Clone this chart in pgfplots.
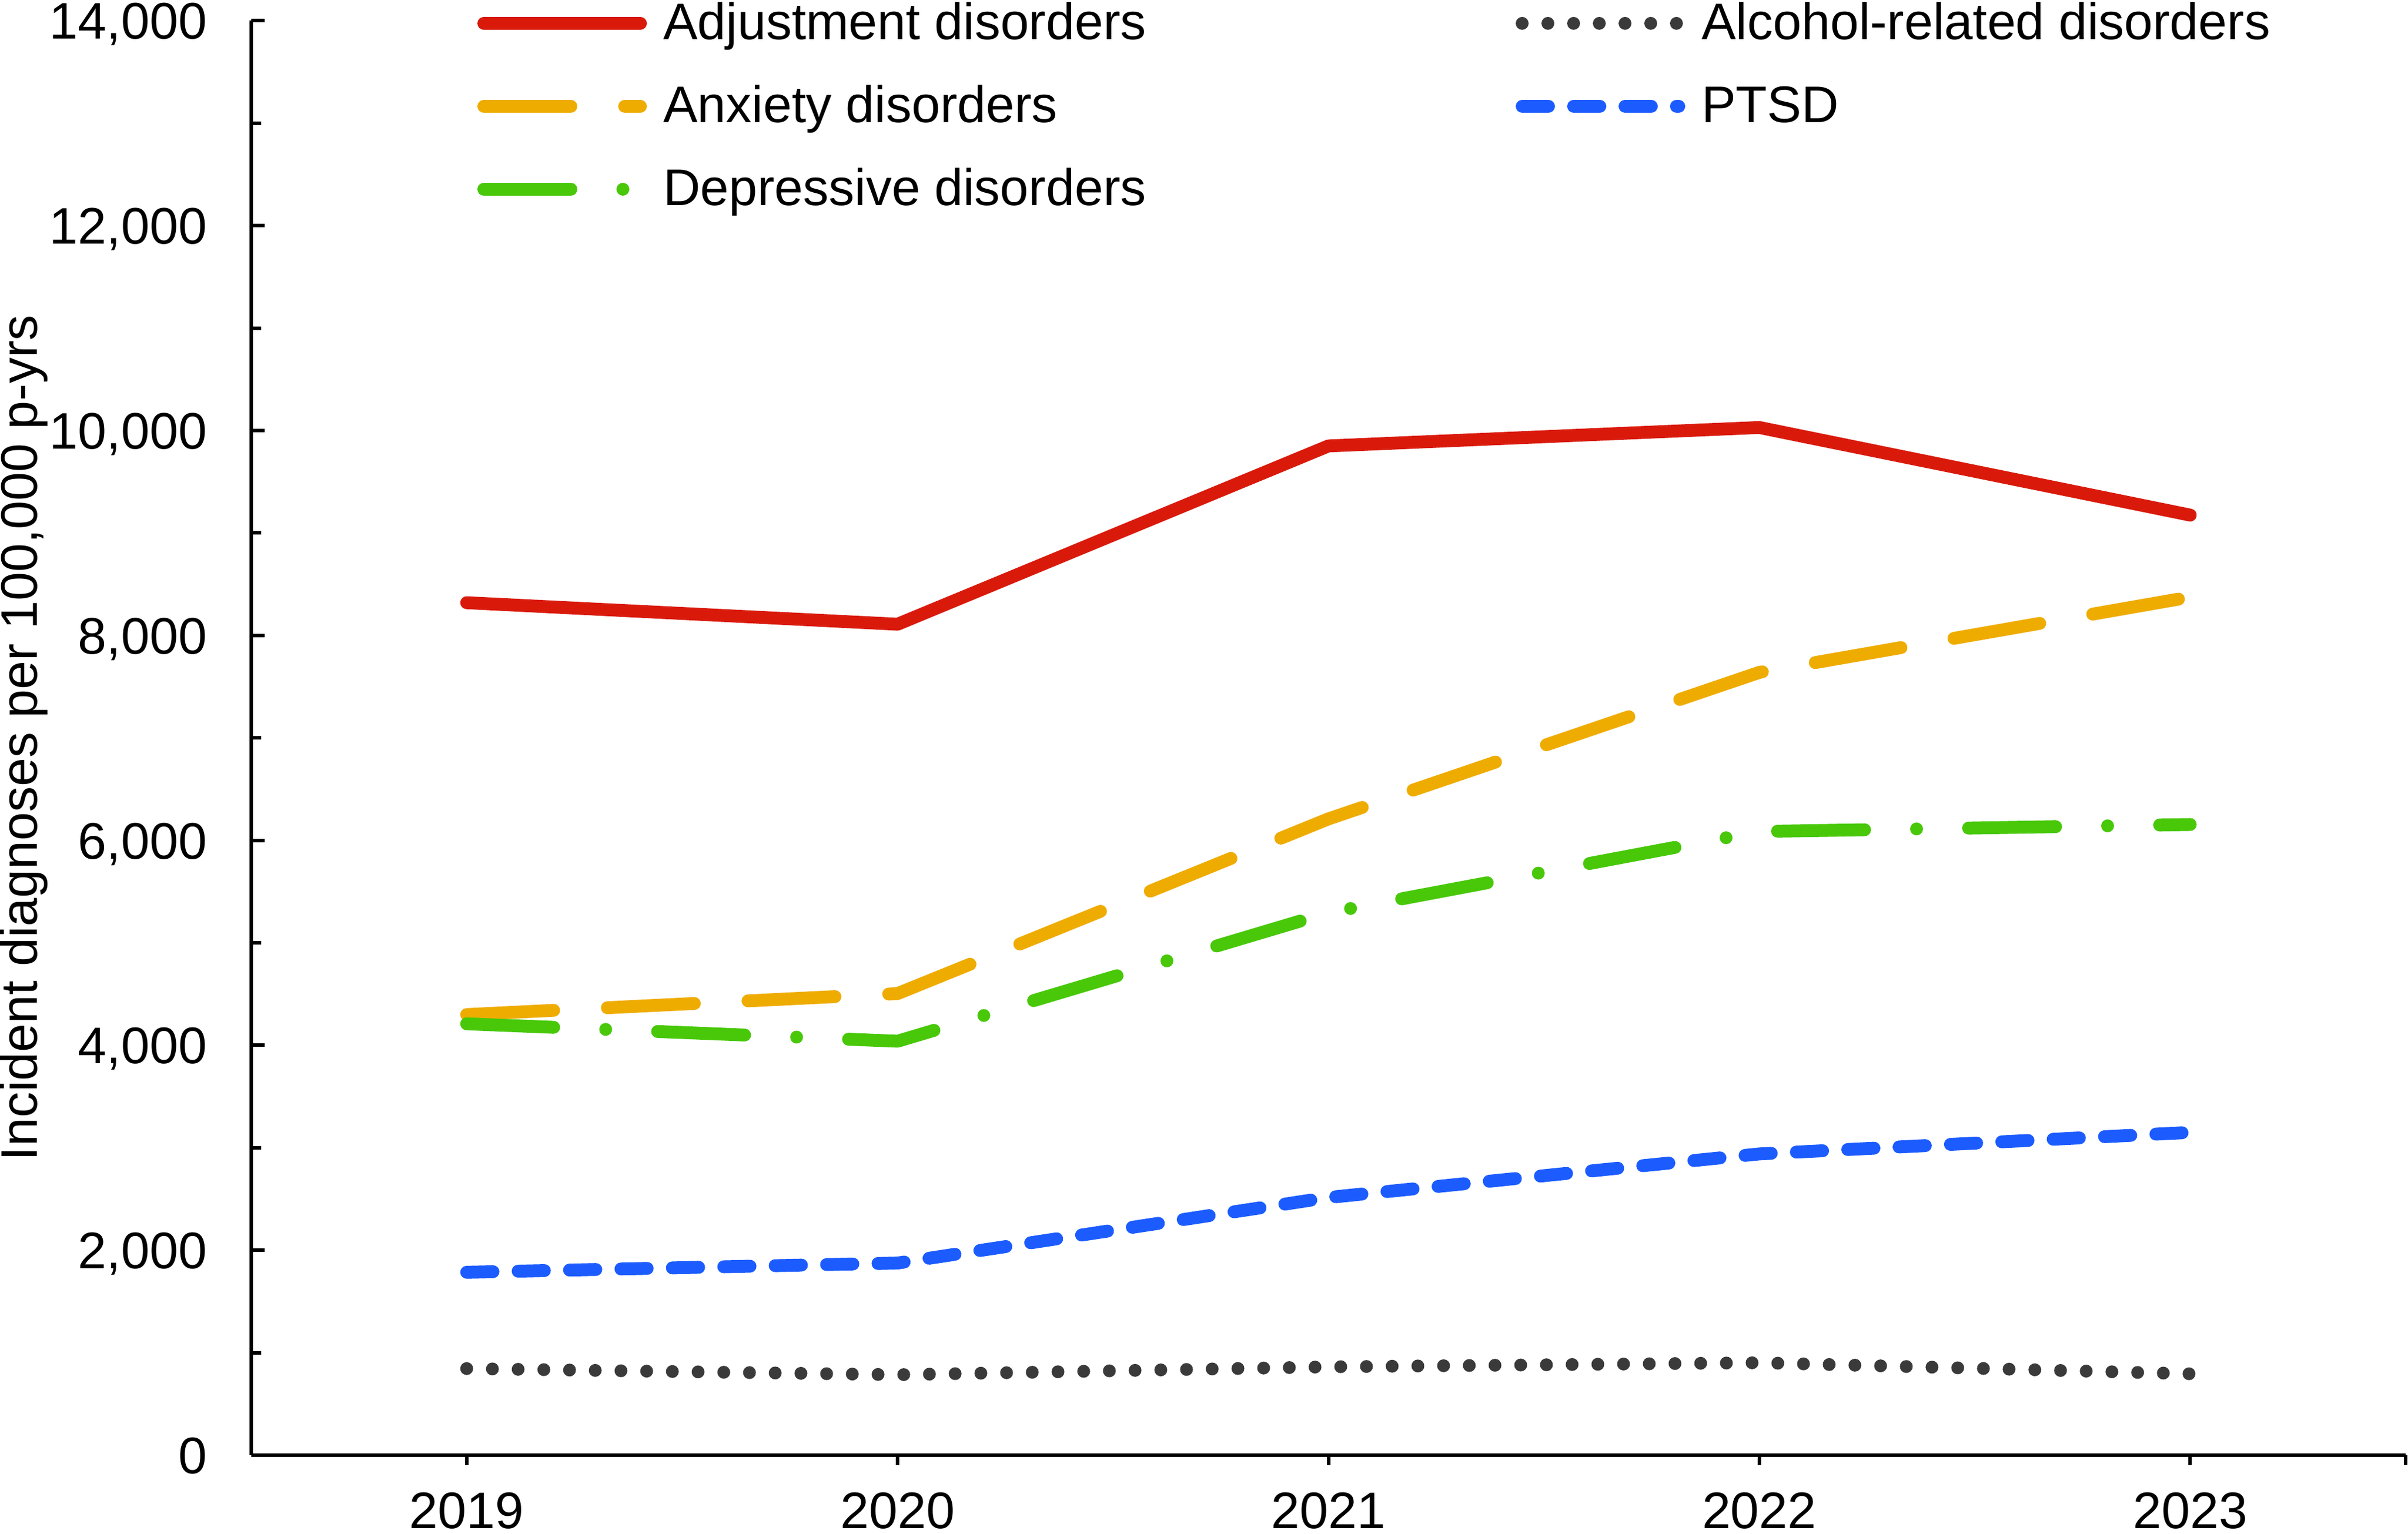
\documentclass[border=0pt]{standalone}
\usepackage{fontspec}
\setmainfont{Liberation Sans}
\usepackage{pgfplots}
\pgfplotsset{compat=1.18}
\definecolor{cAdj}{HTML}{D91A0B}
\definecolor{cAnx}{HTML}{EFAC00}
\definecolor{cDep}{HTML}{48C808}
\definecolor{cPTSD}{HTML}{1C5CFF}
\definecolor{cAlc}{HTML}{3A3A3A}
\begin{document}
\fontsize{8.8}{10.5}\selectfont
\begin{tikzpicture}
\begin{axis}[
  at={(0,0)}, anchor=south west,
  scale only axis, width=368.7pt, height=245.55pt,
  xmin=2018.5, xmax=2023.5, ymin=0, ymax=14000,
  axis lines=left,
  axis line style={-, line width=0.6pt, black},
  tick style={line width=0.6pt, black},
  tick align=inside,
  major tick length=2.3pt, minor tick length=1.7pt,
  ytick={0,2000,4000,6000,8000,10000,12000,14000},
  minor y tick num=1,
  scaled y ticks=false,
  /pgf/number format/fixed,
  /pgf/number format/1000 sep={,},
  /pgf/number format/assume math mode=true,
  yticklabel style={font=\fontsize{8.8}{10.5}\selectfont, anchor=base east, inner sep=0pt, xshift=-7.4pt, yshift=-3.15pt},
  xtick=\empty,
  extra x ticks={2019,2020,2021,2022,2023,2023.5},
  extra x tick labels={2019,2020,2021,2022,2023,{}},
  extra x tick style={tick align=outside, major tick length=1.7pt,
    tick label style={font=\fontsize{8.8}{10.5}\selectfont, anchor=base, inner sep=0pt, yshift=-10.8pt}},
  ylabel={Incident diagnoses per 100,000 p-yrs},
  ylabel style={at={(axis description cs:-0.09954,0.5)}, anchor=base, inner sep=0pt, font=\fontsize{8.8}{10.5}\selectfont},
  legend columns=2,
  legend cell align=left,
  legend image code/.code={\draw[#1] (0pt,2.8pt) -- (26.8pt,2.8pt);},
  legend style={draw=none, fill=none, inner sep=0pt, outer sep=0pt,
    at={(axis description cs:0.10496,1.01324)}, anchor=north west,
    font=\fontsize{8.8}{10.5}\selectfont,
    row sep=5.9pt,
    nodes={inner sep=0pt, outer sep=0pt, anchor=base west, text height=6.5pt, text depth=1.8pt},
    /tikz/every odd column/.style={column sep=2.8pt},
    /tikz/every even column/.style={column sep=60.9pt}},
]
\addplot[cAdj, line width=2.2pt, line cap=round, line join=round]
  coordinates {(2019,8320) (2020,8110) (2021,9850) (2022,10030) (2023,9175)};
\addlegendentry{\makebox[85pt][l]{Adjustment disorders}}
\addplot[cAlc, line width=2.2pt, line cap=round, line join=round, dash pattern=on 0pt off 4.4pt]
  coordinates {(2019,845) (2020,785) (2021,862) (2022,902) (2023,794)};
\addlegendentry{Alcohol-related disorders}
\addplot[cAnx, line width=2.2pt, line cap=round, line join=round, dash pattern=on 14.9pt off 9.2pt]
  coordinates {(2019,4300) (2020,4505) (2021,6210) (2022,7640) (2023,8375)};
\addlegendentry{\makebox[85pt][l]{Anxiety disorders}}
\addplot[cPTSD, line width=2.2pt, line cap=round, line join=round, dash pattern=on 4.5pt off 4.3pt]
  coordinates {(2019,1785) (2020,1875) (2021,2515) (2022,2940) (2023,3150)};
\addlegendentry{PTSD}
\addplot[cDep, line width=2.2pt, line cap=round, line join=round, dash pattern=on 14.9pt off 8.9pt on 0pt off 8.9pt]
  coordinates {(2019,4210) (2020,4040) (2021,5295) (2022,6087) (2023,6155)};
\addlegendentry{\makebox[85pt][l]{Depressive disorders}}
\end{axis}
\pgfresetboundingbox
\path[use as bounding box] (-43pt,-13.4pt) rectangle (369.1pt,249.1pt);
\end{tikzpicture}
\end{document}
